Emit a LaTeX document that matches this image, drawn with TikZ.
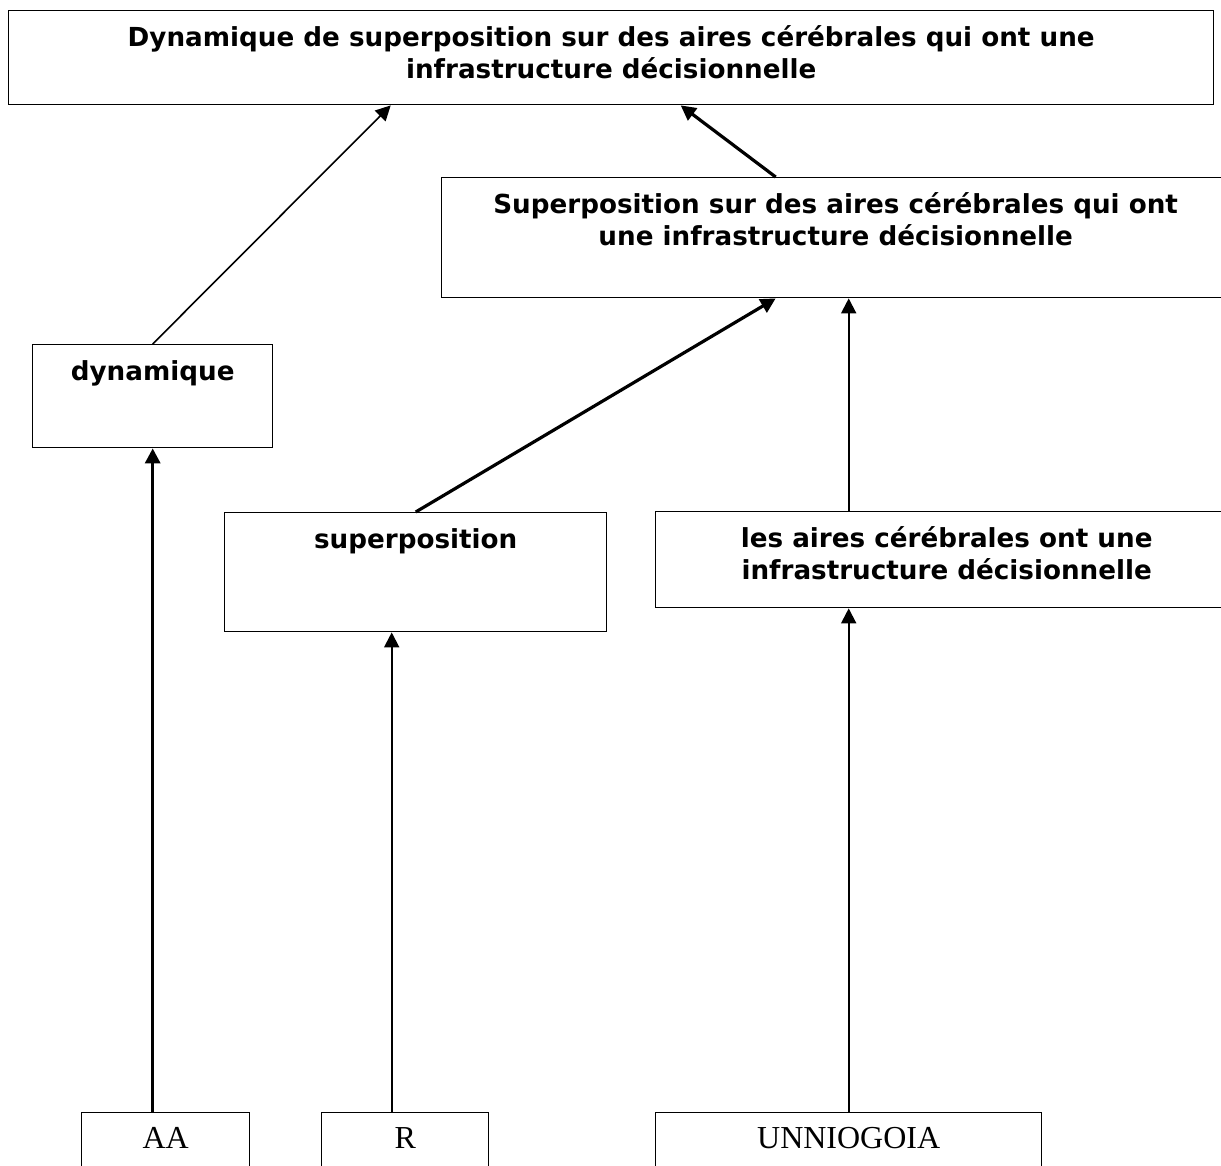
\documentclass[tikz,border=0pt]{standalone}
\usepackage{fontspec}
\setmainfont{DejaVu Sans}
\newfontfamily\serifbas{Liberation Serif}
\usepackage{tikz}
\usetikzlibrary{arrows.meta}
\newcommand{\boite}[3]{\parbox[t][#2][t]{#1}{\centering\rule{0pt}{18pt}#3}}

\begin{document}
\begin{tikzpicture}[x=0.5pt, y=-0.5pt,
    bloc/.style={draw, line width=0.7pt, inner sep=0pt, anchor=north west,
      font=\fontsize{13.1}{16}\selectfont\bfseries},
    base/.style={bloc, font=\fontsize{16}{18}\selectfont\serifbas},
    fleche/.style={-{Triangle[length=7.5pt,width=7.5pt]}, line width=1pt}]
        \useasboundingbox (0,0) rectangle (1221,1166);
        \node [bloc] (top) at (8,10) {\boite{602.5pt}{47pt}{Dynamique de superposition sur des aires cérébrales qui ont une\\ infrastructure décisionnelle}};
        \node [bloc] (s2) at (441,177) {\boite{394pt}{60pt}{Superposition sur des aires cérébrales qui ont\\ une infrastructure décisionnelle}};
        \node [bloc] (dyn) at (32,344) {\boite{120pt}{51.5pt}{dynamique}};
        \node [bloc] (sp) at (224,512) {\boite{191pt}{59.5pt}{superposition}};
        \node [bloc] (ai) at (655,511) {\boite{291pt}{48pt}{les aires cérébrales ont une\\ infrastructure décisionnelle}};
        \node [base] (aa) at (81,1112) {\boite{84pt}{35pt}{AA}};
        \node [base] (r) at (321,1112) {\boite{83.5pt}{35pt}{R}};
        \node [base] (un) at (655,1112) {\boite{193pt}{35pt}{UNNIOGOIA}};
        \draw[fleche, line width=1.6pt] (dyn.south |- aa.north) -- (dyn.south);
        \draw[fleche] ([xshift=-6.75pt]r.north) -- ([xshift=-6.75pt]r.north |- sp.south);
        \draw[fleche] (un.north) -- (un.north |- ai.south);
        \draw[fleche, line width=0.8pt] (dyn.north) -- ([xshift=-110.25pt]top.south);
        \draw[fleche, line width=1.6pt] (sp.north) -- ([xshift=-30pt]s2.south);
        \draw[fleche] (un.north |- ai.north) -- (un.north |- s2.south);
        \draw[fleche, line width=1.6pt] ([xshift=-30pt]s2.north) -- ([xshift=34.75pt]top.south);
      \end{tikzpicture}
\end{document}
